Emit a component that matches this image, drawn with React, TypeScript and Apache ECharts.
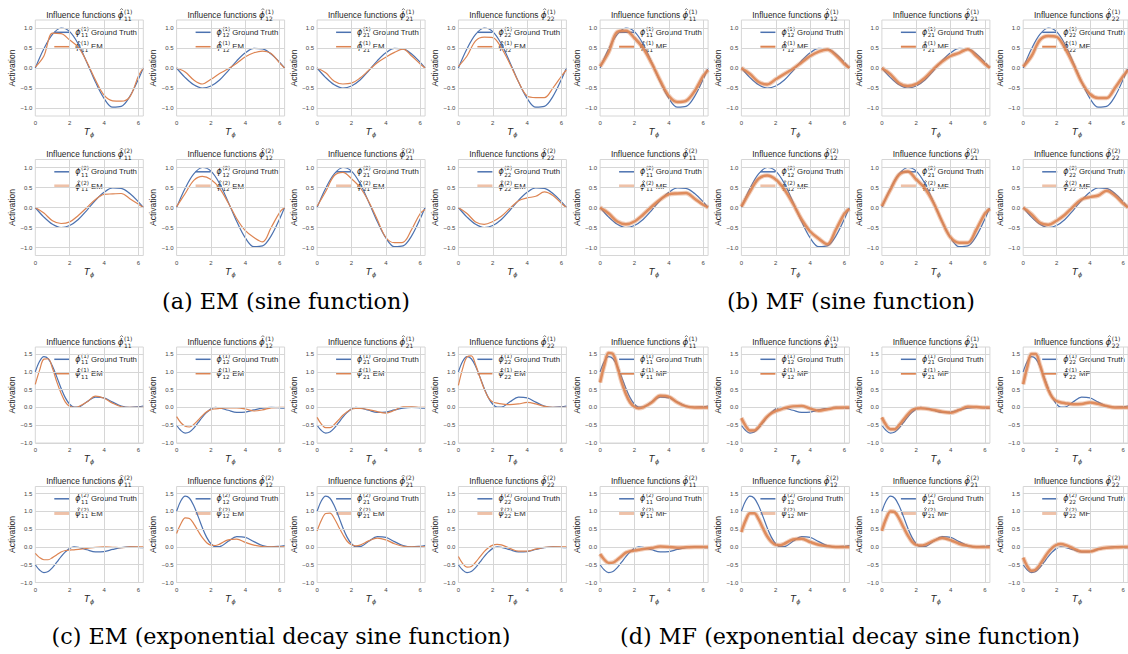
import React, { useEffect, useRef } from 'react';
import * as echarts from 'echarts';

// ---------- data ----------
const X_SINE = [0, 0.5, 1, 1.5, 2, 2.5, 3, 3.5, 4, 4.5, 5, 5.5, 6, 6.28];
const X_EXP = [0, 0.25, 0.5, 0.75, 1, 1.25, 1.5, 1.75, 2, 2.25, 2.5, 3, 3.5, 4, 4.5, 5, 5.5, 6, 6.28];

const Y_TICKS_SINE = [-1, -0.5, 0, 0.5, 1];
const Y_TICKS_EXP = [-1, -0.5, 0, 0.5, 1, 1.5];
const X_TICKS = [0, 2, 4, 6];

// ground truth curves
const GT_SINE_POS = [0, 0.48, 0.84, 1.0, 0.91, 0.6, 0.14, -0.35, -0.76, -0.98, -0.96, -0.71, -0.28, 0];
const GT_SINE_NEG = [0, -0.24, -0.42, -0.5, -0.45, -0.3, -0.07, 0.18, 0.38, 0.49, 0.48, 0.35, 0.14, 0];
const GT_EXP_POS = [1.0, 1.3, 1.43, 1.37, 1.16, 0.86, 0.54, 0.27, 0.09, 0.01, 0.01, 0.16, 0.29, 0.27, 0.15, 0.04, 0.0, 0.02, 0.04];
const GT_EXP_NEG = [-0.5, -0.65, -0.72, -0.69, -0.58, -0.43, -0.27, -0.14, -0.04, 0, -0.01, -0.08, -0.14, -0.13, -0.07, -0.02, 0, -0.01, -0.02];

// (a) EM, sine
const A_11_1 = [0.02, 0.3, 0.87, 0.86, 0.7, 0.52, 0.15, -0.3, -0.68, -0.82, -0.83, -0.72, -0.2, 0];
const A_12_1 = [0, -0.1, -0.3, -0.4, -0.28, -0.14, -0.02, 0.12, 0.28, 0.38, 0.42, 0.36, 0.12, 0];
const A_21_1 = [0, -0.12, -0.33, -0.4, -0.38, -0.25, -0.06, 0.13, 0.27, 0.39, 0.47, 0.3, 0.1, 0];
const A_22_1 = [0.04, 0.3, 0.68, 0.77, 0.76, 0.5, 0.1, -0.35, -0.7, -0.74, -0.74, -0.5, -0.2, -0.05];
const A_11_2 = [0, -0.14, -0.33, -0.4, -0.36, -0.2, 0.0, 0.2, 0.33, 0.34, 0.35, 0.22, 0.08, 0];
const A_12_2 = [0.02, 0.35, 0.68, 0.78, 0.7, 0.48, 0.12, -0.28, -0.58, -0.75, -0.86, -0.5, -0.12, 0];
const A_21_2 = [0.03, 0.4, 0.8, 0.88, 0.72, 0.5, 0.15, -0.3, -0.75, -0.88, -0.87, -0.55, -0.15, -0.05];
const A_22_2 = [0, -0.15, -0.36, -0.42, -0.35, -0.22, -0.02, 0.17, 0.24, 0.28, 0.39, 0.3, 0.1, 0];

// (b) MF, sine
const B_11_1 = [0.04, 0.4, 0.9, 0.93, 0.75, 0.5, 0.12, -0.32, -0.7, -0.85, -0.82, -0.58, -0.2, -0.05];
const B_12_1 = [0, -0.15, -0.35, -0.41, -0.28, -0.15, -0.02, 0.14, 0.3, 0.41, 0.46, 0.32, 0.1, 0];
const B_21_1 = [0, -0.16, -0.38, -0.45, -0.4, -0.25, -0.03, 0.16, 0.3, 0.38, 0.47, 0.3, 0.1, 0];
const B_22_1 = [0.03, 0.3, 0.7, 0.8, 0.78, 0.5, 0.1, -0.35, -0.65, -0.75, -0.75, -0.5, -0.2, -0.05];
const B_11_2 = [0, -0.15, -0.35, -0.42, -0.35, -0.18, 0.02, 0.2, 0.33, 0.35, 0.36, 0.22, 0.07, 0];
const B_12_2 = [0.02, 0.4, 0.72, 0.8, 0.7, 0.45, 0.1, -0.3, -0.6, -0.78, -0.92, -0.55, -0.15, -0.03];
const B_21_2 = [0.03, 0.45, 0.82, 0.9, 0.7, 0.48, 0.12, -0.35, -0.75, -0.88, -0.88, -0.55, -0.15, -0.03];
const B_22_2 = [0, -0.17, -0.38, -0.43, -0.33, -0.18, 0.02, 0.2, 0.26, 0.3, 0.42, 0.3, 0.1, 0];

// (c) EM, exponential decay sine
const C_11_1 = [0.65, 1.05, 1.36, 1.37, 1.1, 0.72, 0.4, 0.15, 0.03, 0.0, 0.02, 0.15, 0.32, 0.26, 0.12, 0.02, 0, 0, 0];
const C_12_1 = [-0.26, -0.43, -0.53, -0.55, -0.48, -0.36, -0.23, -0.12, -0.06, -0.04, -0.03, -0.01, -0.01, -0.04, -0.1, -0.07, -0.01, 0, 0];
const C_21_1 = [-0.28, -0.47, -0.57, -0.57, -0.48, -0.35, -0.22, -0.12, -0.05, -0.03, -0.03, -0.06, -0.12, -0.16, -0.08, 0.02, 0.02, 0, 0];
const C_22_1 = [0.62, 1.1, 1.42, 1.45, 1.2, 0.85, 0.52, 0.27, 0.15, 0.12, 0.1, 0.08, 0.1, 0.14, 0.1, 0.03, 0, 0, 0];
const C_11_2 = [-0.18, -0.3, -0.36, -0.36, -0.3, -0.22, -0.14, -0.1, -0.09, -0.08, -0.07, -0.04, -0.01, 0, -0.01, -0.02, 0, 0, 0];
const C_12_2 = [0.38, 0.65, 0.82, 0.8, 0.65, 0.45, 0.26, 0.12, 0.05, 0.04, 0.08, 0.2, 0.22, 0.13, 0.05, 0.01, 0, 0, 0];
const C_21_2 = [0.45, 0.75, 0.94, 0.95, 0.8, 0.57, 0.35, 0.16, 0.06, 0.03, 0.05, 0.17, 0.25, 0.2, 0.09, 0.02, 0, 0, 0];
const C_22_2 = [-0.27, -0.47, -0.57, -0.55, -0.43, -0.28, -0.13, -0.02, 0.05, 0.07, 0.06, -0.04, -0.12, -0.12, -0.06, -0.01, 0, 0, 0];

// (d) MF, exponential decay sine
const D_11_1 = [0.7, 1.2, 1.53, 1.5, 1.15, 0.72, 0.38, 0.14, 0.02, -0.02, 0.0, 0.14, 0.33, 0.3, 0.14, 0.03, 0, 0, 0];
const D_12_1 = [-0.3, -0.52, -0.65, -0.65, -0.55, -0.4, -0.26, -0.16, -0.1, -0.06, -0.02, 0.03, 0.04, -0.03, -0.09, -0.05, -0.01, 0, 0];
const D_21_1 = [-0.28, -0.5, -0.61, -0.61, -0.5, -0.35, -0.2, -0.08, -0.03, -0.02, -0.03, -0.07, -0.12, -0.15, -0.07, 0.02, 0.01, 0, 0];
const D_22_1 = [0.65, 1.15, 1.5, 1.5, 1.2, 0.82, 0.5, 0.28, 0.18, 0.14, 0.12, 0.09, 0.1, 0.14, 0.1, 0.04, 0, 0, 0];
const D_11_2 = [-0.2, -0.36, -0.45, -0.44, -0.36, -0.26, -0.16, -0.12, -0.1, -0.08, -0.06, -0.03, 0.01, 0, -0.02, -0.01, 0, 0, 0];
const D_12_2 = [0.42, 0.75, 0.95, 0.95, 0.78, 0.53, 0.3, 0.14, 0.06, 0.05, 0.09, 0.21, 0.23, 0.14, 0.06, 0.02, 0, 0, 0];
const D_21_2 = [0.45, 0.8, 1.0, 0.98, 0.8, 0.56, 0.33, 0.15, 0.06, 0.04, 0.06, 0.17, 0.25, 0.19, 0.09, 0.03, 0, 0, 0];
const D_22_2 = [-0.3, -0.55, -0.67, -0.64, -0.5, -0.32, -0.15, -0.02, 0.06, 0.08, 0.06, -0.04, -0.13, -0.13, -0.06, -0.02, -0.01, 0, 0];

const IJ = ['11', '12', '21', '22'];
const CAPTIONS = [
  '(a) EM (sine function)',
  '(b) MF (sine function)',
  '(c) EM (exponential decay sine function)',
  '(d) MF (exponential decay sine function)',
];

// ---------- layout / style ----------
const COL_L = [35.3, 176.6, 317.1, 458.4];
const COL_R = [600.1, 741.4, 881.9, 1023.2];
const ROW_TOP = [20, 159.5, 347, 486.5];
const PW = 108;
const PH = 96;
const CAPTION_POS = [[286, 301], [851, 301], [281, 636], [850, 636]];

const BLUE = '#4c72b0';
const ORANGE = '#dd8452';
const GRIDC = '#d6d6d6';
const TXT = '#262626';
const SANS = "'Liberation Sans', Arial, sans-serif";
const MATH = "'DejaVu Sans'";

const PANELS = [
  { est: [[A_11_1, A_12_1, A_21_1, A_22_1], [A_11_2, A_12_2, A_21_2, A_22_2]], method: 'EM', exp: false, cols: COL_L, row0: 0 },
  { est: [[B_11_1, B_12_1, B_21_1, B_22_1], [B_11_2, B_12_2, B_21_2, B_22_2]], method: 'MF', exp: false, cols: COL_R, row0: 0 },
  { est: [[C_11_1, C_12_1, C_21_1, C_22_1], [C_11_2, C_12_2, C_21_2, C_22_2]], method: 'EM', exp: true, cols: COL_L, row0: 2 },
  { est: [[D_11_1, D_12_1, D_21_1, D_22_1], [D_11_2, D_12_2, D_21_2, D_22_2]], method: 'MF', exp: true, cols: COL_R, row0: 2 },
];

function buildOption() {
  const canvas = document.createElement('canvas');
  const ctx = canvas.getContext('2d') as CanvasRenderingContext2D;
  const mw = (t: string, size: number, fam: string, italic = false) => {
    ctx.font = `${italic ? 'italic ' : ''}${size}px ${fam}`;
    return ctx.measureText(t).width;
  };
  const txt = (x: number, y: number, text: string, size: number, fam: string, opts: any = {}) => ({
    type: 'text', x, y, silent: true,
    style: {
      text, fontSize: size, fontFamily: fam, fontStyle: opts.italic ? 'italic' : 'normal',
      fill: opts.fill || TXT, align: opts.align || 'left', verticalAlign: 'middle',
    },
  });

  const grids: any[] = [];
  const xAxes: any[] = [];
  const yAxes: any[] = [];
  const series: any[] = [];
  const g: any[] = [];

  // phi with optional hat (drawn as a small stroke), superscript and subscript; returns right edge
  const mathSym = (x: number, y: number, hat: boolean, sup: string, sub: string, size: number, ss: number) => {
    const wPhi = mw('ϕ', size, MATH, true);
    g.push(txt(x, y, 'ϕ', size, MATH, { italic: true }));
    if (hat) {
      const hx = x + wPhi / 2 + size * 0.12;
      const hw = size * 0.17;
      g.push({
        type: 'polyline', silent: true,
        shape: { points: [[hx - hw, y - size * 0.52], [hx, y - size * 0.7], [hx + hw, y - size * 0.52]] },
        style: { stroke: TXT, lineWidth: 0.6, fill: null },
      });
    }
    const sx = x + wPhi + 0.5;
    g.push(txt(sx, y - size * 0.42, sup, ss, MATH));
    g.push(txt(sx, y + size * 0.38, sub, ss, MATH));
    return sx + Math.max(mw(sup, ss, MATH), mw(sub, ss, MATH));
  };

  let gi = 0;
  PANELS.forEach((p) => {
    for (let r = 0; r < 2; r++) {
      for (let c = 0; c < 4; c++) {
        const L = p.cols[c];
        const T = ROW_TOP[p.row0 + r];
        const k = `(${r + 1})`;
        const ij = IJ[c];
        const xs = p.exp ? X_EXP : X_SINE;
        const pos = r === 0 ? (c === 0 || c === 3) : (c === 1 || c === 2);
        const gt = p.exp ? (pos ? GT_EXP_POS : GT_EXP_NEG) : (pos ? GT_SINE_POS : GT_SINE_NEG);
        const est = p.est[r][c];
        const yt = p.exp ? Y_TICKS_EXP : Y_TICKS_SINE;

        grids.push({ left: L, top: T, width: PW, height: PH, show: true, borderColor: GRIDC, borderWidth: 1, backgroundColor: '#fff' });
        xAxes.push({
          type: 'value', gridIndex: gi, min: 0, max: 6.2832,
          axisLine: { show: false }, axisTick: { show: false }, splitLine: { show: false },
          axisLabel: { customValues: X_TICKS, fontSize: 6, color: '#444', margin: 4, fontFamily: SANS },
        });
        yAxes.push({
          type: 'value', gridIndex: gi, min: p.exp ? -1 : -1.2, max: p.exp ? 1.7 : 1.2,
          axisLine: { show: false }, axisTick: { show: false }, splitLine: { show: false },
          axisLabel: {
            customValues: yt, fontSize: 6, color: '#444', margin: 3, fontFamily: SANS,
            formatter: (v: number) => (v < 0 ? '−' : '') + Math.abs(v).toFixed(1),
          },
          name: 'Activation', nameLocation: 'middle', nameGap: 17,
          nameTextStyle: { fontSize: 8.5, color: TXT, fontFamily: SANS },
        });
        series.push({
          type: 'line', xAxisIndex: gi, yAxisIndex: gi, data: [], z: 1, silent: true,
          markLine: {
            silent: true, symbol: ['none', 'none'], label: { show: false }, animation: false,
            lineStyle: { color: GRIDC, width: 1, type: 'solid' },
            emphasis: { disabled: true },
            data: [...yt.map((v) => ({ yAxis: v })), ...X_TICKS.filter((v) => v > 0).map((v) => ({ xAxis: v }))],
          },
        });
        series.push({
          type: 'line', xAxisIndex: gi, yAxisIndex: gi, z: 3, silent: true, smooth: 0.35, showSymbol: false,
          data: xs.map((x, i) => [x, gt[i]]),
          lineStyle: { color: BLUE, width: 1.2 },
          emphasis: { disabled: true },
        });
        const estData = xs.map((x, i) => [x, est[i]]);
        if (p.method === 'EM') {
          series.push({
            type: 'line', xAxisIndex: gi, yAxisIndex: gi, z: 4, silent: true, smooth: 0.35, showSymbol: false,
            data: estData, lineStyle: { color: ORANGE, width: 1.2 }, emphasis: { disabled: true },
          });
        } else {
          series.push({
            type: 'line', xAxisIndex: gi, yAxisIndex: gi, z: 4, silent: true, smooth: 0.35, showSymbol: false,
            data: estData, lineStyle: { color: ORANGE, width: 4.6, opacity: 0.38 }, emphasis: { disabled: true },
          });
          series.push({
            type: 'line', xAxisIndex: gi, yAxisIndex: gi, z: 5, silent: true, smooth: 0.35, showSymbol: false,
            data: estData, lineStyle: { color: ORANGE, width: 2.5, opacity: 0.9 }, emphasis: { disabled: true },
          });
        }

        // title
        const prefix = 'Influence functions ';
        const tSize = 8.3, tPhi = 8.8, tScript = 6;
        const total = mw(prefix, tSize, SANS) + mw('ϕ', tPhi, MATH, true) + 0.5 + Math.max(mw(k, tScript, MATH), mw(ij, tScript, MATH));
        const tx = L + PW / 2 - total / 2;
        const ty = T - 5.3;
        g.push(txt(tx, ty, prefix, tSize, SANS));
        mathSym(tx + mw(prefix, tSize, SANS), ty, true, k, ij, tPhi, tScript);

        // legend
        const y1 = T + 12.3, y2 = T + 26.7;
        g.push({ type: 'line', silent: true, shape: { x1: L + 19, y1, x2: L + 34, y2: y1 }, style: { stroke: BLUE, lineWidth: 1.5 } });
        const est2Style = r === 0
          ? { stroke: ORANGE, lineWidth: p.method === 'MF' ? 2 : 1.5 }
          : { stroke: ORANGE, lineWidth: 3.5, opacity: 0.5 };
        g.push({ type: 'line', silent: true, shape: { x1: L + 19, y1: y2, x2: L + 34, y2 }, style: est2Style });
        const e1 = mathSym(L + 40, y1, false, k, ij, 8, 5.6);
        const e2 = mathSym(L + 40, y2, true, k, ij, 8, 5.6);
        const lx = Math.max(e1, e2) + 2;
        g.push(txt(lx, y1, 'Ground Truth', 7.8, SANS));
        g.push(txt(lx, y2, p.method, 7.8, SANS));

        // x axis name T_phi
        const cx = L + PW / 2;
        const by = T + PH + 16.3;
        g.push(txt(cx + 0.5, by, 'T', 9, MATH, { italic: true, align: 'right' }));
        g.push(txt(cx + 0.8, by + 2.6, 'ϕ', 6.3, MATH, { italic: true }));

        gi++;
      }
    }
  });

  CAPTIONS.forEach((cap, i) => {
    g.push(txt(CAPTION_POS[i][0], CAPTION_POS[i][1], cap, 22.3, "'DejaVu Serif'", { align: 'center', fill: '#000' }));
  });

  return {
    animation: false,
    backgroundColor: '#fff',
    grid: grids,
    xAxis: xAxes,
    yAxis: yAxes,
    series,
    graphic: { elements: g },
  };
}

export default function App() {
  const ref = useRef<HTMLDivElement>(null);
  useEffect(() => {
    const chart = echarts.init(ref.current as HTMLDivElement, null, { renderer: 'svg' });
    chart.setOption(buildOption() as any);
    return () => chart.dispose();
  }, []);
  return (
    <div
      ref={ref}
      style={{ position: 'absolute', left: 0, top: 0, width: 1128, height: 654, background: '#fff' }}
    />
  );
}
